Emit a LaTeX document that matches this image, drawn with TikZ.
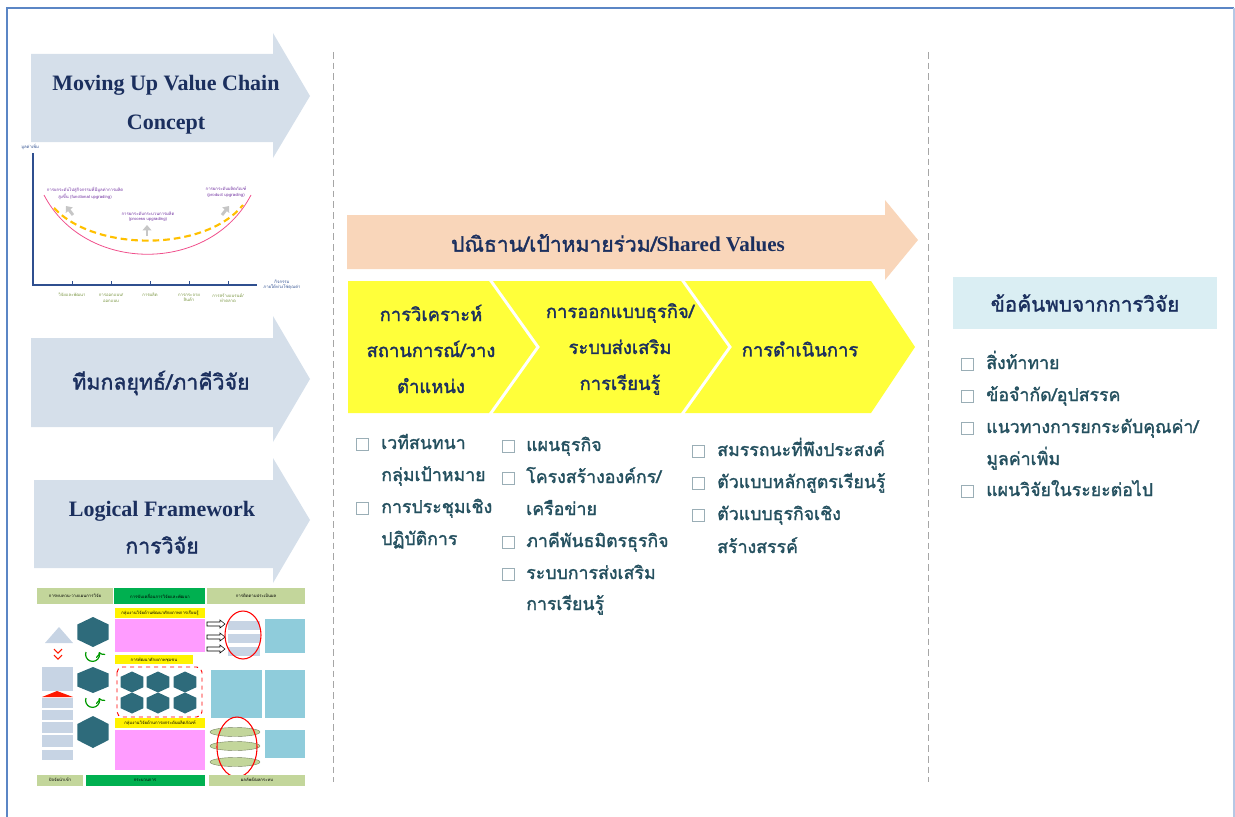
\documentclass[tikz,border=0pt]{standalone}
\usepackage{fontspec}
\setmainfont{Liberation Serif}
\newfontfamily\thai[Script=Thai, AutoFakeBold=1.6]{Loma}
\usetikzlibrary{arrows.meta,shapes.geometric,positioning}

\definecolor{navy}{HTML}{1B2F5E}
\definecolor{arrowbg}{HTML}{D5DFEA}
\definecolor{peach}{HTML}{F9D6BA}
\definecolor{chevy}{HTML}{FFFF3A}
\definecolor{listc}{HTML}{24505F}
\definecolor{boxgray}{HTML}{9AAEB6}
\definecolor{headblue}{HTML}{DAEEF3}
\definecolor{frameblue}{HTML}{5B86C5}
\definecolor{axisc}{HTML}{2F4F8F}
\definecolor{pinkc}{HTML}{F0508C}
\definecolor{orangec}{HTML}{FFC000}
\definecolor{purplec}{HTML}{7030A0}
\definecolor{olivec}{HTML}{76923C}
\definecolor{olivebg}{HTML}{C3D69B}
\definecolor{greenbg}{HTML}{00B050}
\definecolor{pinkbg}{HTML}{FF9CFF}
\definecolor{hexc}{HTML}{2E6B7B}
\definecolor{tealbg}{HTML}{8FCCDB}
\definecolor{graybg}{HTML}{C7D4E4}

\tikzset{
    ttl/.style={font=\bfseries\fontsize{16.5}{29}\selectfont, text=navy, align=center},
    thtl/.style={font=\thai\bfseries\fontsize{16}{28}\selectfont, text=navy, align=center},
    chev/.style={font=\thai\bfseries\fontsize{13.8}{27}\selectfont, text=navy, align=center},
    item/.style={font=\thai\bfseries\fontsize{13.3}{24}\selectfont, text=listc, anchor=base west, inner sep=0pt},
    chk/.style={draw=boxgray, line width=0.6pt, minimum size=9pt, inner sep=0pt},
    tiny/.style={font=\thai\fontsize{3.2}{4}\selectfont, align=center, inner sep=0pt},
    gup/.style={gray!45, line width=2.2pt, -{Triangle[length=4pt,width=6.5pt]}},
    sep/.style={gray!70, line width=0.6pt, dash pattern=on 5pt off 3pt},
    hexa/.pic={\fill[hexc] (0,-1)--(0.87,-0.5)--(0.87,0.5)--(0,1)--(-0.87,0.5)--(-0.87,-0.5)--cycle;},
}

\begin{document}
\begin{tikzpicture}[x=0.75pt,y=-0.75pt]
\useasboundingbox (0,0) rectangle (1235,817);

% frame
\draw[frameblue, line width=1.5pt] (7,817) -- (7,8) -- (1234,8);
\draw[frameblue!45, line width=1pt] (1234,8) -- (1234,817);

% left arrows
\fill[arrowbg] (31,54) -- (273,54) -- (273,33) -- (310,96) -- (273,158) -- (273,142) -- (31,142) -- cycle;
\node[ttl] (mvc) at (166,105) {Moving Up Value Chain\\Concept};

\fill[arrowbg] (31,338) -- (273,338) -- (273,316) -- (310,379) -- (273,442) -- (273,427) -- (31,427) -- cycle;
\node[thtl] (team) at (161,383) {ทีมกลยุทธ์/ภาคีวิจัย};

\fill[arrowbg] (34,480) -- (273,480) -- (273,458) -- (310,520) -- (273,583) -- (273,568) -- (34,568) -- cycle;
\node[ttl] (lfw) at (162,511) {Logical Framework};
\node[thtl] (lfwth) at (162,545) {การวิจัย};

% value chain curve
\draw[axisc, line width=0.8pt] (33,153) -- (33,285) -- (257,285);
\foreach \x in {72,111,150,189,228}
    \draw[axisc, line width=0.6pt] (\x,281) -- (\x,285);
\node[tiny, text=axisc, anchor=west] (yl) at (21,147) {มูลค่าเพิ่ม};
\node[tiny, text=axisc] (xl) at (282,285) {กิจกรรม\\ภายใต้ห่วงโซ่คุณค่า};
\draw[pinkc, line width=0.6pt] (44,195) .. controls (85,274) and (210,274) .. (251,195);
\draw[orangec, line width=1.6pt, dash pattern=on 5pt off 3pt] (54,208) .. controls (95,252) and (205,252) .. (243,205);
\draw[gup] (73,215) -- (66,206);
\draw[gup] (147,236) -- (147,225);
\draw[gup] (222,215) -- (229,206);
\node[tiny, text=purplec] (fu) at (85,193) {การยกระดับไปสู่กิจกรรมที่มีมูลค่าการผลิต\\สูงขึ้น (functional upgrading)};
\node[tiny, text=purplec] (pu) at (148,217) {การยกระดับกระบวนการผลิต\\(process upgrading)};
\node[tiny, text=purplec] (du) at (226,192) {การยกระดับผลิตภัณฑ์\\(product upgrading)};
\node[tiny, text=olivec] (v1) at (72,295) {วิจัยและพัฒนา};
\node[tiny, text=olivec] (v2) at (111,298) {การออกแบบ/\\ออกแบบ};
\node[tiny, text=olivec] (v3) at (150,295) {การผลิต};
\node[tiny, text=olivec] (v4) at (189,298) {การกระจาย\\สินค้า};
\node[tiny, text=olivec] (v5) at (228,298) {การสร้างแบรนด์/\\ทำตลาด};

% logical framework thumbnail
\fill[olivebg] (37,588) rectangle (113,604);
\fill[greenbg] (114,588) rectangle (205,604);
\fill[olivebg] (207,588) rectangle (305,604);
\node[tiny] (h1) at (75,596) {การทบทวน-วางแผนการวิจัย};
\node[tiny] (h2) at (160,596) {การขับเคลื่อนการวิจัยและพัฒนา};
\node[tiny] (h3) at (256,596) {การติดตามประเมินผล};
\fill[graybg] (45,643) -- (59,627) -- (73,643) -- cycle;
\draw[red!80!orange, line width=0.8pt] (54,649) -- (58,653) -- (62,649) (54,655) -- (58,659) -- (62,655);
\fill[graybg] (42,667) rectangle (73,691);
\fill[red!80!orange] (42,697) -- (57,691) -- (73,697) -- cycle;
\foreach \a/\b in {698/708,710/720,722/733,735/747,750/760}
    \fill[graybg] (42,\a) rectangle (73,\b);
\pic[xscale=18,yscale=15] at (93,632) {hexa};
\pic[xscale=18,yscale=13] at (93,680) {hexa};
\pic[xscale=18,yscale=16] at (93,732) {hexa};
\draw[green!60!black, line width=0.9pt, ->] (86,652) arc (200:-20:7);
\draw[green!60!black, line width=0.9pt, ->] (86,698) arc (200:-20:7);
\fill[yellow] (115,608) rectangle (205,618);
\fill[pinkbg] (115,619) rectangle (205,652);
\fill[yellow] (115,655) rectangle (193,664);
\fill[yellow] (115,718) rectangle (205,728);
\fill[pinkbg] (115,730) rectangle (205,770);
\node[tiny] (y1) at (160,613) {กลุ่มงานวิจัยด้านพัฒนาศักยภาพการเรียนรู้};
\node[tiny] (y2) at (154,660) {การพัฒนาศักยภาพชุมชน};
\node[tiny] (y3) at (160,723) {กลุ่มงานวิจัยด้านการยกระดับผลิตภัณฑ์};
\draw[red, line width=0.7pt, dashed, rounded corners=4pt] (117,667) rectangle (202,717);
\foreach \x in {132,158,185}
    \foreach \y in {682,703}
        \pic[xscale=13,yscale=10.5] at (\x,\y) {hexa};
\foreach \y in {624,637,649}
    \draw[black, line width=0.4pt, fill=white] (207,\y-2) -- (220,\y-2) -- (220,\y-4) -- (225,\y) -- (220,\y+4) -- (220,\y+2) -- (207,\y+2) -- cycle;
\foreach \y in {621,634,647}
    \fill[graybg] (228,\y) rectangle (260,\y+9);
\draw[red, line width=0.8pt] (243,635) ellipse (18 and 24);
\fill[tealbg] (265,619) rectangle (305,653);
\fill[tealbg] (211,670) rectangle (262,718);
\fill[tealbg] (265,670) rectangle (305,718);
\foreach \y in {732,746,762}
    \draw[olivebg!60!black, line width=0.3pt, fill=olivebg] (235,\y) ellipse (25 and 4.5);
\draw[red, line width=0.8pt] (237,747) ellipse (20 and 30);
\fill[tealbg] (265,730) rectangle (305,758);
\fill[olivebg] (37,775) rectangle (83,786);
\fill[greenbg] (86,775) rectangle (205,786);
\fill[olivebg] (209,775) rectangle (305,786);
\node[tiny] (b1) at (60,780) {ปัจจัยนำเข้า};
\node[tiny] (b2) at (145,780) {กระบวนการ};
\node[tiny] (b3) at (257,780) {ผลลัพธ์/ผลกระทบ};

% separators
\draw[sep] (333,52) -- (333,782);
\draw[sep] (928,52) -- (928,782);

% shared values
\fill[peach] (347,215) -- (885,215) -- (885,200) -- (918,240) -- (885,280) -- (885,269) -- (347,269) -- cycle;
\node[font=\bfseries\fontsize{15.8}{18}\selectfont, text=navy] (shv) at (618,243) {{\thai ปณิธาน/เป้าหมายร่วม/}Shared Values};

% process chevrons
\fill[chevy] (348,281) -- (489,281) -- (536,347) -- (489,413) -- (348,413) -- cycle;
\fill[chevy] (493,281) -- (681,281) -- (728,347) -- (681,413) -- (493,413) -- (540,347) -- cycle;
\fill[chevy] (685,281) -- (871,281) -- (915,347) -- (871,413) -- (685,413) -- (732,347) -- cycle;
\node[chev] (p1) at (431,349) {การวิเคราะห์\\สถานการณ์/วาง\\ตำแหน่ง};
\node[chev] (p2) at (620,349) {การออกแบบธุรกิจ/\\ระบบส่งเสริม\\การเรียนรู้};
\node[chev] (p3) at (800,349) {การดำเนินการ};

% lists under the chevrons
\foreach \y in {444,508}
    \node[chk] at (362,\y) {};
\node[item] (a1) at (381,449) {เวทีสนทนา};
\node[item] (a2) at (381,481) {กลุ่มเป้าหมาย};
\node[item] (a3) at (381,513) {การประชุมเชิง};
\node[item] (a4) at (381,545) {ปฏิบัติการ};

\foreach \y in {446,478,542,574}
    \node[chk] at (508,\y) {};
\node[item] (b1) at (526,451) {แผนธุรกิจ};
\node[item] (b2) at (526,483) {โครงสร้างองค์กร/};
\node[item] (b3) at (526,515) {เครือข่าย};
\node[item] (b4) at (526,547) {ภาคีพันธมิตรธุรกิจ};
\node[item] (b5) at (526,579) {ระบบการส่งเสริม};
\node[item] (b6) at (526,610) {การเรียนรู้};

\foreach \y in {451,483,515}
    \node[chk] at (698,\y) {};
\node[item] (c1) at (717,456) {สมรรถนะที่พึงประสงค์};
\node[item] (c2) at (717,488) {ตัวแบบหลักสูตรเรียนรู้};
\node[item] (c3) at (717,520) {ตัวแบบธุรกิจเชิง};
\node[item] (c4) at (717,553) {สร้างสรรค์};

% findings
\fill[headblue] (953,277) rectangle (1217,329);
\node[chev, font=\thai\bfseries\fontsize{15.5}{27}\selectfont] (fd) at (1085,303) {ข้อค้นพบจากการวิจัย};
\foreach \y in {364,396,428,491}
    \node[chk] at (967,\y) {};
\node[item] (d1) at (986,369) {สิ่งท้าทาย};
\node[item] (d2) at (986,401) {ข้อจำกัด/อุปสรรค};
\node[item] (d3) at (986,433) {แนวทางการยกระดับคุณค่า/};
\node[item] (d4) at (986,465) {มูลค่าเพิ่ม};
\node[item] (d5) at (986,496) {แผนวิจัยในระยะต่อไป};
\end{tikzpicture}
\end{document}
